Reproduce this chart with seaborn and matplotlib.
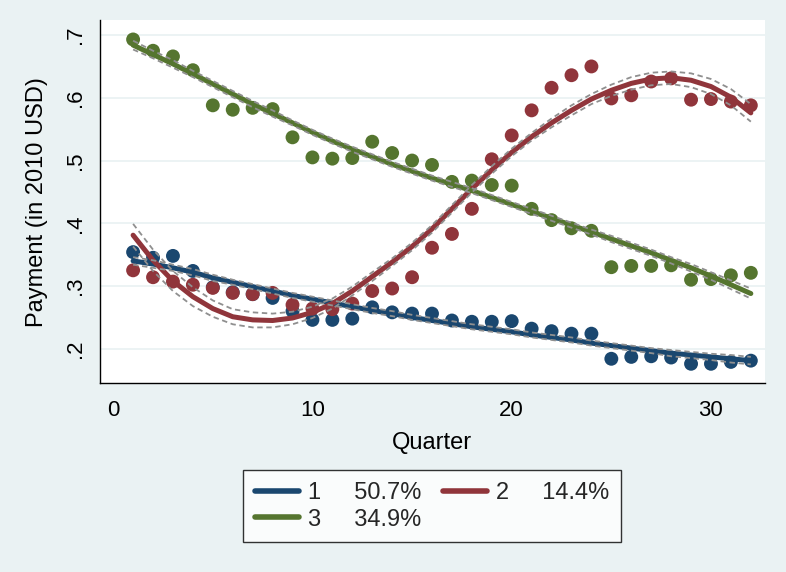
import numpy as np
import pandas as pd
import matplotlib
matplotlib.use("Agg")
import matplotlib.pyplot as plt
import seaborn as sns
from matplotlib.lines import Line2D

# ---------------- data ----------------
quarters = list(range(1, 33))

group1_points = [.354, .345, .348, .324, .298, .290, .287, .281, .260, .246, .246, .248,
                 .266, .258, .256, .256, .245, .243, .243, .244, .232, .228, .224, .224,
                 .184, .187, .188, .186, .176, .176, .179, .181]
group2_points = [.325, .314, .307, .302, .297, .289, .287, .289, .270, .264, .263, .272,
                 .292, .296, .314, .361, .383, .423, .502, .540, .580, .616, .636, .650,
                 .599, .604, .626, .631, .597, .598, .594, .588]
group3_points = [.693, .675, .666, .644, .588, .581, .584, .582, .537, .505, .503, .504,
                 .530, .512, .500, .493, .466, .468, .461, .460, .423, .405, .392, .388,
                 .330, .332, .332, .333, .310, .311, .317, .321]

group1_fit = [.340, .335, .329, .322, .313, .306, .299, .292, .285, .279, .273, .267,
              .261, .256, .250, .245, .240, .235, .231, .227, .222, .218, .214, .209,
              .205, .201, .197, .193, .190, .187, .184, .181]
group2_fit = [.381, .341, .308, .283, .264, .251, .246, .245, .249, .258, .272, .292,
              .315, .338, .363, .391, .423, .455, .485, .513, .538, .560, .580, .598,
              .612, .623, .630, .632, .628, .618, .601, .576]
group3_fit = [.684, .669, .654, .638, .622, .606, .590, .575, .560, .545, .531, .518,
              .506, .494, .483, .472, .462, .452, .441, .430, .419, .408, .397, .386,
              .375, .364, .353, .341, .329, .316, .302, .288]

group1_ci = [.006, .006, .005, .005, .005, .004, .004, .004, .004, .004, .004, .004,
             .004, .004, .004, .004, .004, .004, .004, .004, .004, .004, .004, .004,
             .004, .004, .004, .005, .005, .005, .006, .006]
group2_ci = [.018, .017, .016, .015, .013, .012, .012, .011, .010, .009, .008, .007,
             .007, .006, .006, .006, .006, .006, .006, .006, .006, .007, .008, .008,
             .009, .010, .010, .010, .011, .012, .013, .014]
group3_ci = [.007, .006, .006, .005, .005, .005, .005, .005, .004, .004, .004, .004,
             .004, .004, .004, .004, .004, .004, .004, .004, .004, .004, .004, .004,
             .005, .005, .005, .005, .006, .006, .007, .008]

group_names = ["1", "2", "3"]
group_shares = ["50.7%", "14.4%", "34.9%"]
y_ticks = [.2, .3, .4, .5, .6, .7]
y_tick_labels = [".2", ".3", ".4", ".5", ".6", ".7"]
x_ticks = [0, 10, 20, 30]

colors = {"1": "#1a476f", "2": "#90353b", "3": "#55752f"}
bg = "#eaf2f3"

# ---------------- tables ----------------
pts = pd.concat([
    pd.DataFrame({"quarter": quarters, "value": v, "group": g})
    for g, v in zip(group_names, [group1_points, group2_points, group3_points])
])
fits = pd.concat([
    pd.DataFrame({"quarter": quarters, "fit": f, "lo": np.array(f) - np.array(c),
                  "hi": np.array(f) + np.array(c), "group": g})
    for g, f, c in zip(group_names, [group1_fit, group2_fit, group3_fit],
                       [group1_ci, group2_ci, group3_ci])
])

# ---------------- plot ----------------
sns.set_theme(style="white")
plt.rcParams["font.family"] = ["Liberation Sans", "DejaVu Sans"]

fig = plt.figure(figsize=(7.86, 5.72), dpi=100, facecolor=bg)
ax = fig.add_axes([0.127, 0.330, 0.846, 0.635])
ax.set_facecolor("white")

sns.scatterplot(data=pts, x="quarter", y="value", hue="group", palette=colors,
                s=100, linewidth=0, legend=False, ax=ax, zorder=3)
sns.lineplot(data=fits, x="quarter", y="fit", hue="group", palette=colors,
             linewidth=3.6, legend=False, ax=ax, zorder=4)
grey = {g: "#8f8f8f" for g in group_names}
for col in ["lo", "hi"]:
    sns.lineplot(data=fits, x="quarter", y=col, hue="group", palette=grey,
                 linewidth=1.3, linestyle=(0, (3, 2)), legend=False, ax=ax, zorder=5)

ax.set_xlim(-0.67, 32.7)
ax.set_ylim(0.145, 0.724)
ax.set_xticks(x_ticks)
ax.set_xticklabels([str(t) for t in x_ticks])
ax.set_yticks(y_ticks)
ax.set_yticklabels(y_tick_labels, rotation=90, va="center")
ax.grid(axis="y", color=bg, linewidth=1.3)
ax.grid(axis="x", visible=False)
ax.set_axisbelow(True)
for s in ["top", "right"]:
    ax.spines[s].set_visible(False)
for s in ["left", "bottom"]:
    ax.spines[s].set_color("black")
    ax.spines[s].set_linewidth(1.0)
ax.tick_params(axis="both", direction="out", length=5, width=1, color="black",
               labelsize=16, labelcolor="black", pad=7)
ax.tick_params(axis="y", pad=5)
ax.set_xlabel("Quarter", fontsize=17, color="black", labelpad=8)
ax.set_ylabel("Payment (in 2010 USD)", fontsize=17, color="black", labelpad=12)

handles = [Line2D([0], [0], color=colors[g], lw=4) for g in group_names]
labels = [f"{g}     {p}" for g, p in zip(group_names, group_shares)]
order = [0, 2, 1]
leg = fig.legend([handles[i] for i in order], [labels[i] for i in order],
                 loc="center", bbox_to_anchor=(0.55, 0.115), ncol=2, frameon=True,
                 fancybox=False, edgecolor="black", facecolor="white", fontsize=17,
                 handlelength=1.85, handletextpad=0.4, columnspacing=0.9,
                 labelspacing=0.2, borderpad=0.5)
leg.get_frame().set_linewidth(1.0)

fig.savefig("out.png", dpi=100, facecolor=bg)
